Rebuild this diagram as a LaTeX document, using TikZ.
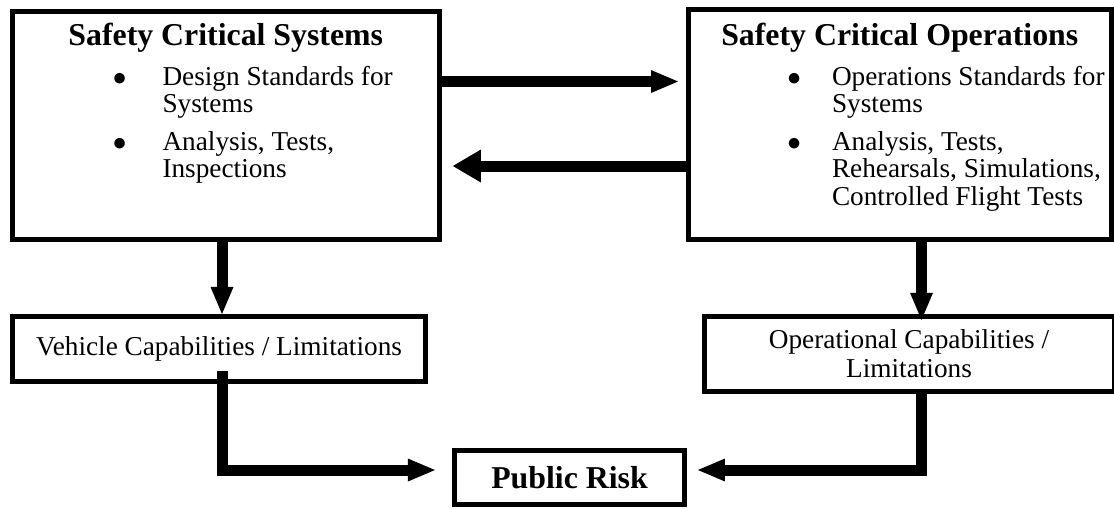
\documentclass[tikz,border=0pt]{standalone}
\usepackage{fontspec}
\setmainfont{Liberation Serif}
\usetikzlibrary{arrows.meta}

\begin{document}
\begin{tikzpicture}[x=0.44pt, y=-0.44pt,
  box/.style={draw, line width=2.2pt, inner sep=0pt, align=center, font=\fontsize{12}{12.5}\selectfont},
  head/.style={inner sep=0pt, anchor=base, font=\fontsize{14}{16}\selectfont\bfseries},
  items/.style={inner sep=0pt, anchor=base west, font=\fontsize{12}{12.1}\selectfont},
  fat/.style={line width=4.84pt, -{Triangle[length=11.9pt, width=10.1pt, line width=0pt]}}]
\useasboundingbox (0,0) rectangle (1114,508);

\node[box, minimum width=188.1pt, minimum height=100.3pt] (sys) at (225.75,125.5) {};
\node[box, minimum width=186.3pt, minimum height=101pt] (ops) at (899.75,124.75) {};
\node[head] (systitle) at (225.75,45) {Safety Critical Systems};
\node[head] (opstitle) at (899.75,45) {Safety Critical Operations};
\node[items] (sysitems) at (112.5,85) {\begin{tabular}[t]{@{}p{21.8pt}@{}l@{}}
  $\bullet$ & Design Standards for\\
  & Systems\\[4.6pt]
  $\bullet$ & Analysis, Tests,\\
  & Inspections
\end{tabular}};
\node[items] (opsitems) at (787,85) {\begin{tabular}[t]{@{}p{19.6pt}@{}l@{}}
  $\bullet$ & Operations Standards for\\
  & Systems\\[4.6pt]
  $\bullet$ & Analysis, Tests,\\
  & Rehearsals, Simulations,\\
  & Controlled Flight Tests
\end{tabular}};

\node[box, minimum width=181.7pt, minimum height=28.6pt] (veh) at (219,349) {Vehicle Capabilities / Limitations};
\node[box, minimum width=180.4pt, minimum height=32.8pt] (opl) at (909,353.75) {Operational Capabilities /\\ Limitations};
\node[box, minimum width=101.2pt, minimum height=23.8pt, font=\fontsize{14}{16}\selectfont\bfseries] (risk) at (569.5,477.5) {Public Risk};

\coordinate (hr) at (0,81.5);
\coordinate (hl) at (0,166);
\coordinate (hb) at (0,470);
\coordinate (vl) at (222,0);
\coordinate (vr) at (921.5,0);

\draw[fat, shorten >=3.3pt] (sys.east |- hr) -- (ops.west |- hr);
\draw[fat, -{Triangle[length=12.3pt, width=14.5pt, line width=0pt]}, shorten >=4.8pt] (ops.west |- hl) -- (sys.east |- hl);
\draw[fat] (sys.south -| vl) -- (veh.north -| vl);
\draw[fat, shorten >=-2.6pt] (ops.south -| vr) -- (opl.north -| vr);
\draw[fat, shorten >=7.5pt] (veh.south -| vl) ++(0,-13) |- (risk.west |- hb);
\draw[fat, shorten >=4.8pt] (opl.south -| vr) |- (risk.east |- hb);
\end{tikzpicture}
\end{document}
